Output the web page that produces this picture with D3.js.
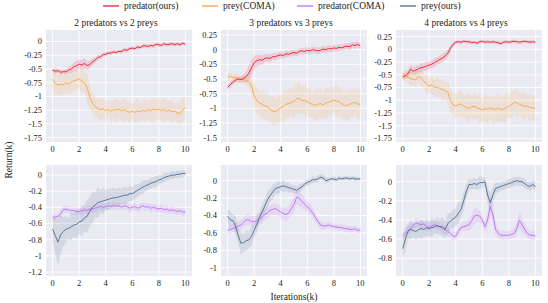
<!DOCTYPE html>
<html><head><meta charset="utf-8">
<script src="https://cdn.jsdelivr.net/npm/d3@7"></script>
<style>body{margin:0;background:#fff}svg{display:block}</style>
</head><body><svg id="c" width="548" height="303"></svg>
<script>
// ---------- data (x = 0..10 k iterations, evenly spaced) ----------
const titles = ["2 predators vs 2 preys", "3 predators vs 3 preys", "4 predators vs 4 preys"];
const legendLabels = ["predator(ours)", "prey(COMA)", "predator(COMA)", "prey(ours)"];
const xTicks = [0, 2, 4, 6, 8, 10];
const yTicksTop = [[0,-0.25,-0.5,-0.75,-1,-1.25,-1.5,-1.75],[0.25,0,-0.25,-0.5,-0.75,-1,-1.25,-1.5],[0.25,0,-0.25,-0.5,-0.75,-1,-1.25,-1.5,-1.75]];
const yTicksBot = [[0,-0.2,-0.4,-0.6,-0.8,-1,-1.2],[0,-0.2,-0.4,-0.6,-0.8,-1],[0,-0.2,-0.4,-0.6,-0.8]];
const yDomTop = [[-1.83,0.21],[-1.575,0.335],[-1.82,0.38]];
const yDomBot = [[-1.25,0.125],[-1.095,0.18],[-0.985,0.174]];

// top row: predator(ours) / prey(COMA)
const predOurs2 = [-0.52,-0.54,-0.53,-0.56,-0.55,-0.55,-0.52,-0.50,-0.46,-0.44,-0.41,-0.43,-0.40,-0.44,-0.42,-0.37,-0.34,-0.29,-0.28,-0.24,-0.23,-0.21,-0.21,-0.19,-0.20,-0.18,-0.18,-0.15,-0.16,-0.13,-0.12,-0.13,-0.10,-0.11,-0.08,-0.08,-0.09,-0.07,-0.08,-0.05,-0.06,-0.07,-0.04,-0.06,-0.05,-0.04,-0.06,-0.04,-0.06,-0.03,-0.05];
const predOurs2Sd = [0.04,0.05,0.04,0.05,0.04,0.05,0.06,0.07,0.08,0.09,0.08,0.10,0.09,0.08,0.07,0.06,0.05,0.05,0.04,0.04,0.04,0.03,0.04,0.03,0.04,0.03,0.04,0.03,0.04,0.03,0.04,0.03,0.04,0.03,0.04,0.03,0.04,0.03,0.04,0.03,0.04,0.03,0.04,0.03,0.04,0.03,0.04,0.03,0.04,0.03,0.04];
const preyComa2 = [-0.69,-0.76,-0.80,-0.77,-0.79,-0.75,-0.77,-0.74,-0.72,-0.70,-0.68,-0.72,-0.75,-0.84,-1.02,-1.12,-1.18,-1.22,-1.24,-1.23,-1.26,-1.24,-1.27,-1.24,-1.25,-1.23,-1.26,-1.24,-1.27,-1.29,-1.27,-1.29,-1.26,-1.28,-1.25,-1.27,-1.24,-1.26,-1.23,-1.25,-1.23,-1.26,-1.24,-1.27,-1.25,-1.28,-1.27,-1.30,-1.31,-1.25,-1.20];
const preyComa2Sd = [0.18,0.24,0.16,0.22,0.15,0.20,0.17,0.23,0.16,0.19,0.15,0.21,0.18,0.25,0.22,0.17,0.20,0.15,0.22,0.17,0.19,0.14,0.21,0.16,0.23,0.15,0.18,0.22,0.16,0.20,0.14,0.19,0.23,0.16,0.18,0.21,0.15,0.19,0.22,0.16,0.20,0.15,0.23,0.17,0.19,0.21,0.15,0.20,0.18,0.22,0.19];

const predOurs3 = [-0.64,-0.60,-0.55,-0.52,-0.50,-0.51,-0.49,-0.46,-0.40,-0.31,-0.22,-0.19,-0.17,-0.18,-0.15,-0.14,-0.15,-0.12,-0.12,-0.10,-0.09,-0.10,-0.07,-0.08,-0.06,-0.05,-0.06,-0.03,-0.02,-0.03,-0.01,-0.02,0.00,-0.01,-0.02,-0.01,0.01,0.00,0.02,0.01,0.03,0.02,0.04,0.03,0.05,0.06,0.05,0.08,0.07,0.09,0.06];
const predOurs3Sd = [0.04,0.05,0.04,0.05,0.04,0.05,0.06,0.09,0.13,0.14,0.12,0.10,0.09,0.08,0.07,0.06,0.07,0.05,0.06,0.05,0.06,0.05,0.06,0.05,0.06,0.05,0.06,0.05,0.06,0.05,0.06,0.05,0.06,0.05,0.06,0.05,0.06,0.05,0.06,0.05,0.06,0.05,0.06,0.05,0.06,0.05,0.06,0.05,0.06,0.05,0.05];
const preyComa3 = [-0.47,-0.46,-0.48,-0.47,-0.50,-0.51,-0.50,-0.53,-0.55,-0.62,-0.78,-0.87,-0.91,-0.93,-0.96,-0.97,-1.02,-1.05,-1.06,-1.02,-0.99,-0.97,-0.93,-0.92,-0.90,-0.88,-0.84,-0.83,-0.87,-0.86,-0.89,-0.91,-0.94,-0.95,-0.93,-0.92,-0.94,-0.91,-0.90,-0.88,-0.86,-0.88,-0.89,-0.92,-0.95,-0.95,-0.93,-0.91,-0.90,-0.93,-0.93];
const preyComa3Sd = [0.06,0.07,0.06,0.08,0.07,0.06,0.08,0.07,0.09,0.14,0.20,0.24,0.19,0.26,0.21,0.25,0.20,0.27,0.22,0.26,0.21,0.28,0.23,0.26,0.21,0.29,0.24,0.27,0.22,0.28,0.23,0.26,0.21,0.29,0.24,0.27,0.22,0.28,0.23,0.26,0.21,0.29,0.24,0.27,0.22,0.28,0.23,0.26,0.21,0.27,0.24];

const predOurs4 = [-0.54,-0.52,-0.48,-0.39,-0.43,-0.41,-0.38,-0.36,-0.35,-0.33,-0.31,-0.29,-0.26,-0.23,-0.20,-0.17,-0.13,-0.08,0.02,0.10,0.14,0.15,0.14,0.16,0.15,0.15,0.13,0.14,0.12,0.15,0.16,0.14,0.15,0.14,0.15,0.14,0.13,0.11,0.14,0.15,0.14,0.15,0.16,0.15,0.14,0.15,0.16,0.15,0.14,0.15,0.14];
const predOurs4Sd = [0.05,0.06,0.08,0.09,0.08,0.09,0.07,0.09,0.08,0.09,0.07,0.08,0.09,0.07,0.08,0.09,0.08,0.07,0.06,0.05,0.04,0.03,0.04,0.03,0.04,0.03,0.04,0.03,0.04,0.03,0.04,0.03,0.04,0.03,0.04,0.03,0.04,0.03,0.04,0.03,0.04,0.03,0.04,0.03,0.04,0.03,0.04,0.03,0.04,0.03,0.04];
const preyComa4 = [-0.47,-0.52,-0.55,-0.57,-0.59,-0.60,-0.53,-0.56,-0.63,-0.68,-0.72,-0.70,-0.75,-0.74,-0.77,-0.79,-0.81,-0.84,-1.00,-1.09,-1.11,-1.09,-1.07,-1.12,-1.14,-1.16,-1.13,-1.12,-1.15,-1.17,-1.19,-1.16,-1.18,-1.15,-1.17,-1.18,-1.15,-1.19,-1.17,-1.15,-1.12,-1.09,-1.04,-1.05,-1.08,-1.10,-1.12,-1.11,-1.14,-1.15,-1.16];
const preyComa4Sd = [0.08,0.12,0.10,0.14,0.11,0.16,0.12,0.17,0.13,0.18,0.14,0.19,0.15,0.20,0.16,0.21,0.17,0.22,0.24,0.20,0.26,0.21,0.28,0.22,0.25,0.29,0.21,0.27,0.23,0.30,0.22,0.26,0.29,0.21,0.27,0.24,0.30,0.22,0.26,0.28,0.21,0.27,0.23,0.29,0.22,0.26,0.28,0.21,0.27,0.24,0.25];

// bottom row: predator(COMA) / prey(ours)
const predComa2 = [-0.52,-0.52,-0.51,-0.48,-0.43,-0.42,-0.43,-0.44,-0.44,-0.45,-0.45,-0.44,-0.43,-0.44,-0.42,-0.42,-0.41,-0.40,-0.39,-0.40,-0.39,-0.38,-0.39,-0.37,-0.39,-0.38,-0.40,-0.38,-0.39,-0.41,-0.40,-0.39,-0.41,-0.40,-0.38,-0.40,-0.39,-0.41,-0.40,-0.41,-0.42,-0.41,-0.43,-0.42,-0.44,-0.43,-0.44,-0.45,-0.44,-0.46,-0.46];
const predComa2Sd = [0.03,0.04,0.03,0.05,0.04,0.05,0.04,0.05,0.04,0.05,0.04,0.05,0.04,0.05,0.04,0.05,0.04,0.05,0.04,0.05,0.04,0.05,0.04,0.05,0.04,0.05,0.04,0.05,0.04,0.05,0.04,0.05,0.04,0.05,0.04,0.05,0.04,0.05,0.04,0.05,0.04,0.05,0.04,0.05,0.04,0.05,0.04,0.05,0.04,0.05,0.04];
const preyOurs2 = [-0.67,-0.75,-0.83,-0.74,-0.70,-0.67,-0.66,-0.64,-0.62,-0.61,-0.58,-0.57,-0.53,-0.51,-0.45,-0.40,-0.37,-0.34,-0.33,-0.32,-0.31,-0.30,-0.29,-0.28,-0.28,-0.27,-0.26,-0.25,-0.25,-0.23,-0.23,-0.21,-0.19,-0.17,-0.15,-0.13,-0.12,-0.10,-0.09,-0.08,-0.06,-0.05,-0.03,-0.02,-0.01,0.00,0.00,0.01,0.01,0.02,0.02];
const preyOurs2Sd = [0.15,0.22,0.28,0.24,0.18,0.16,0.13,0.17,0.14,0.18,0.15,0.19,0.16,0.21,0.17,0.20,0.15,0.19,0.14,0.17,0.12,0.14,0.11,0.13,0.10,0.12,0.09,0.11,0.09,0.10,0.08,0.09,0.08,0.07,0.08,0.07,0.06,0.07,0.06,0.07,0.06,0.05,0.06,0.05,0.04,0.05,0.04,0.05,0.04,0.04,0.04];

const predComa3 = [-0.57,-0.56,-0.55,-0.54,-0.52,-0.51,-0.48,-0.45,-0.45,-0.47,-0.47,-0.46,-0.44,-0.42,-0.39,-0.37,-0.34,-0.33,-0.32,-0.34,-0.36,-0.38,-0.39,-0.37,-0.32,-0.27,-0.19,-0.20,-0.24,-0.27,-0.30,-0.33,-0.37,-0.42,-0.47,-0.51,-0.52,-0.52,-0.51,-0.52,-0.53,-0.53,-0.54,-0.54,-0.55,-0.55,-0.56,-0.56,-0.55,-0.57,-0.57];
const predComa3Sd = [0.04,0.05,0.04,0.06,0.05,0.06,0.05,0.07,0.06,0.07,0.06,0.07,0.06,0.07,0.06,0.07,0.06,0.07,0.06,0.07,0.06,0.07,0.08,0.07,0.08,0.09,0.08,0.09,0.08,0.07,0.06,0.07,0.06,0.05,0.04,0.05,0.04,0.03,0.04,0.03,0.04,0.03,0.04,0.03,0.04,0.03,0.04,0.03,0.04,0.03,0.03];
const preyOurs3 = [-0.41,-0.45,-0.46,-0.52,-0.63,-0.72,-0.71,-0.69,-0.68,-0.64,-0.57,-0.50,-0.42,-0.36,-0.29,-0.22,-0.17,-0.13,-0.09,-0.08,-0.07,-0.06,-0.07,-0.08,-0.09,-0.10,-0.11,-0.09,-0.07,-0.04,-0.02,-0.01,0.01,0.01,0.02,0.04,0.03,0.00,0.01,0.02,0.02,0.01,0.03,0.02,0.03,0.03,0.02,0.03,0.02,0.02,0.02];
const preyOurs3Sd = [0.08,0.10,0.07,0.11,0.09,0.13,0.10,0.12,0.09,0.11,0.08,0.10,0.07,0.09,0.08,0.10,0.07,0.09,0.06,0.08,0.05,0.07,0.05,0.06,0.04,0.05,0.04,0.05,0.04,0.03,0.04,0.03,0.04,0.03,0.04,0.03,0.04,0.03,0.03,0.02,0.03,0.02,0.03,0.02,0.03,0.02,0.03,0.02,0.03,0.02,0.02];

const predComa4 = [-0.57,-0.54,-0.51,-0.49,-0.46,-0.43,-0.44,-0.45,-0.44,-0.47,-0.48,-0.46,-0.45,-0.46,-0.47,-0.49,-0.50,-0.52,-0.54,-0.57,-0.57,-0.52,-0.48,-0.47,-0.46,-0.45,-0.41,-0.36,-0.35,-0.36,-0.40,-0.47,-0.40,-0.26,-0.34,-0.50,-0.54,-0.56,-0.56,-0.56,-0.56,-0.55,-0.54,-0.49,-0.40,-0.45,-0.50,-0.54,-0.56,-0.56,-0.57];
const predComa4Sd = [0.04,0.05,0.04,0.05,0.04,0.05,0.04,0.05,0.04,0.05,0.04,0.05,0.04,0.05,0.04,0.05,0.04,0.05,0.04,0.05,0.04,0.05,0.04,0.05,0.05,0.06,0.07,0.08,0.07,0.06,0.05,0.06,0.08,0.10,0.09,0.06,0.05,0.04,0.05,0.04,0.05,0.04,0.05,0.07,0.09,0.08,0.06,0.05,0.04,0.05,0.04];
const preyOurs4 = [-0.70,-0.60,-0.52,-0.50,-0.51,-0.52,-0.50,-0.49,-0.50,-0.48,-0.49,-0.48,-0.47,-0.46,-0.47,-0.47,-0.50,-0.44,-0.41,-0.39,-0.37,-0.33,-0.29,-0.20,-0.10,-0.03,-0.03,-0.02,-0.03,-0.01,-0.01,0.00,-0.14,-0.22,-0.14,-0.07,-0.06,-0.05,-0.04,-0.03,-0.02,-0.01,0.00,0.01,0.00,0.00,-0.02,-0.04,-0.05,-0.03,-0.05];
const preyOurs4Sd = [0.10,0.12,0.08,0.10,0.07,0.09,0.08,0.10,0.07,0.09,0.08,0.10,0.07,0.09,0.08,0.10,0.09,0.11,0.08,0.10,0.09,0.11,0.08,0.09,0.07,0.06,0.05,0.06,0.05,0.07,0.06,0.05,0.08,0.10,0.08,0.06,0.05,0.04,0.05,0.04,0.05,0.04,0.05,0.04,0.05,0.04,0.05,0.04,0.05,0.04,0.05];

const colors = {predOurs:"#ea1a2c", preyComa:"#f8a43e", predComa:"#bb6ef2", preyOurs:"#4d6b8a"};

// ---------- layout ----------
const svg = d3.select("#c");
const FONT = "Liberation Serif, Times New Roman, Times, Tinos, Noto Serif, DejaVu Serif, serif";
const panelX = [46, 221, 396], panelW = 146;
const rows = [{y:30, h:112}, {y:165, h:111}];
const fmt = v => String(+v.toFixed(2));

const topSeries = [
  [{m:preyComa2, s:preyComa2Sd, c:colors.preyComa}, {m:predOurs2, s:predOurs2Sd, c:colors.predOurs}],
  [{m:preyComa3, s:preyComa3Sd, c:colors.preyComa}, {m:predOurs3, s:predOurs3Sd, c:colors.predOurs}],
  [{m:preyComa4, s:preyComa4Sd, c:colors.preyComa}, {m:predOurs4, s:predOurs4Sd, c:colors.predOurs}]
];
const botSeries = [
  [{m:predComa2, s:predComa2Sd, c:colors.predComa}, {m:preyOurs2, s:preyOurs2Sd, c:colors.preyOurs}],
  [{m:predComa3, s:predComa3Sd, c:colors.predComa}, {m:preyOurs3, s:preyOurs3Sd, c:colors.preyOurs}],
  [{m:predComa4, s:predComa4Sd, c:colors.predComa}, {m:preyOurs4, s:preyOurs4Sd, c:colors.preyOurs}]
];

function txt(sel) { return sel.style("font-family", FONT).attr("fill", "#222"); }

function panel(id, x0, row, dom, yTicks, series) {
  const x = d3.scaleLinear().domain([-0.5, 10.5]).range([x0, x0 + panelW]);
  const y = d3.scaleLinear().domain(dom).range([row.y + row.h, row.y]);
  svg.append("rect").attr("x", x0).attr("y", row.y).attr("width", panelW).attr("height", row.h).attr("fill", "#eaeaf2");
  svg.append("clipPath").attr("id", id).append("rect").attr("x", x0).attr("y", row.y).attr("width", panelW).attr("height", row.h);
  const g = svg.append("g");
  g.selectAll(null).data(xTicks).join("line").attr("x1", d => x(d)).attr("x2", d => x(d))
    .attr("y1", row.y).attr("y2", row.y + row.h).attr("stroke", "#fff").attr("stroke-width", 0.9);
  g.selectAll(null).data(yTicks).join("line").attr("y1", d => y(d)).attr("y2", d => y(d))
    .attr("x1", x0).attr("x2", x0 + panelW).attr("stroke", "#fff").attr("stroke-width", 0.9);
  txt(g.selectAll(null).data(xTicks).join("text").attr("x", d => x(d)).attr("y", row.y + row.h + 9.5)
    .attr("text-anchor", "middle").attr("font-size", 8.5).text(d => d));
  txt(g.selectAll(null).data(yTicks).join("text").attr("x", x0 - 4).attr("y", d => y(d) + 2.9)
    .attr("text-anchor", "end").attr("font-size", 8.5).text(fmt));
  const pg = g.append("g").attr("clip-path", `url(#${id})`);
  series.forEach(sr => {
    const n = sr.m.length;
    const xi = i => x(i * 10 / (n - 1));
    const pts = sr.m.map((v, i) => [i, v, sr.s[i]]);
    const area = d3.area().x(d => xi(d[0])).y0(d => y(d[1] - d[2])).y1(d => y(d[1] + d[2]));
    pg.append("path").attr("d", area(pts)).attr("fill", sr.c).attr("fill-opacity", 0.15);
  });
  series.forEach(sr => {
    const n = sr.m.length;
    const line = d3.line().x((d, i) => x(i * 10 / (n - 1))).y(d => y(d));
    pg.append("path").attr("d", line(sr.m)).attr("fill", "none").attr("stroke", sr.c).attr("stroke-width", 0.9);
  });
}

for (let k = 0; k < 3; k++) {
  panel("ct" + k, panelX[k], rows[0], yDomTop[k], yTicksTop[k], topSeries[k]);
  panel("cb" + k, panelX[k], rows[1], yDomBot[k], yTicksBot[k], botSeries[k]);
  txt(svg.append("text").attr("x", panelX[k] + panelW / 2 - 3).attr("y", 26).attr("text-anchor", "middle")
    .attr("font-size", 9.5).text(titles[k]));
}

// legend
const legCols = [colors.predOurs, colors.preyComa, colors.predComa, colors.preyOurs];
const legX = [103, 202, 297, 400];
legendLabels.forEach((t, i) => {
  svg.append("line").attr("x1", legX[i]).attr("x2", legX[i] + 16).attr("y1", 6).attr("y2", 6)
    .attr("stroke", legCols[i]).attr("stroke-width", 1.3);
  txt(svg.append("text").attr("x", legX[i] + 21).attr("y", 9.2).attr("font-size", 9.5).text(t));
});

txt(svg.append("text").attr("x", 294).attr("y", 300).attr("text-anchor", "middle").attr("font-size", 9.5).text("Iterations(k)"));
txt(svg.append("text").attr("transform", "translate(12,160) rotate(-90)").attr("text-anchor", "middle").attr("font-size", 9.5).text("Return(k)"));
</script></body></html>
